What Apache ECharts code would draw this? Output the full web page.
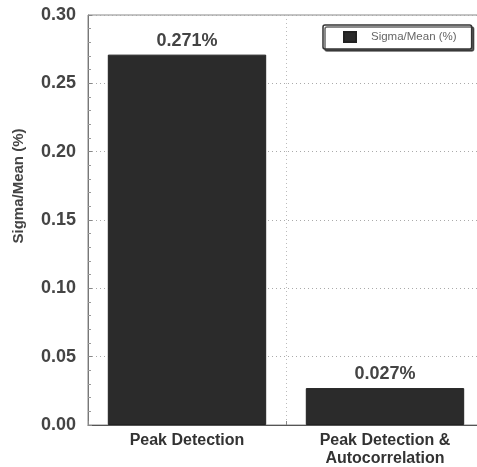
<!DOCTYPE html>
<html>
<head>
<meta charset="utf-8">
<script src="https://cdn.jsdelivr.net/npm/echarts@6/dist/echarts.min.js"></script>
<style>
html,body{margin:0;padding:0;background:#fff;}
#c{width:477px;height:467px;}
</style>
</head>
<body>
<div id="c"></div>
<script>
const categories = ['Peak Detection', 'Peak Detection &\nAutocorrelation'];
const seriesName = 'Sigma/Mean (%)';
const values = [0.271, 0.027];
const yAxisTitle = 'Sigma/Mean (%)';

const chart = echarts.init(document.getElementById('c'), null, {renderer: 'canvas'});
const font = '"Liberation Sans", Arial, Helvetica, sans-serif';
chart.setOption({
  animation: false,
  backgroundColor: '#fff',
  textStyle: {fontFamily: font},
  grid: {left: 88, top: 15, width: 396, height: 410, show: true, borderColor: '#888', borderWidth: 1,
    outerBoundsMode: 'none', containLabel: false},
  legend: {
    left: 323, top: 25,
    padding: [6, 15, 6, 20],
    itemWidth: 12, itemHeight: 10,
    icon: 'rect',
    borderColor: '#333', borderWidth: 1.5, borderRadius: 2,
    shadowColor: 'rgba(0,0,0,0.6)', shadowOffsetX: 2, shadowOffsetY: 2, shadowBlur: 0,
    backgroundColor: '#fff',
    textStyle: {fontFamily: font, fontSize: 11.5, color: '#666', padding: [0, 0, 0, 10], lineHeight: 12},
    data: [seriesName]
  },
  xAxis: {
    type: 'category',
    data: categories,
    axisLine: {show: true, lineStyle: {color: '#555', width: 1}},
    axisTick: {show: true, inside: true, length: 4, lineStyle: {color: '#888'}},
    axisLabel: {interval: 0, fontFamily: font, fontSize: 16, fontWeight: 'bold', color: '#333', lineHeight: 18, margin: 7},
    splitLine: {show: true, lineStyle: {color: '#bbb', type: [1, 3]}}
  },
  yAxis: {
    type: 'value',
    min: 0, max: 0.3, interval: 0.05,
    axisLine: {show: true, lineStyle: {color: '#777', width: 1}},
    axisTick: {show: true, inside: true, length: 4, lineStyle: {color: '#888'}},
    minorTick: {show: true, splitNumber: 5, length: 3, lineStyle: {color: '#999'}},
    axisLabel: {fontFamily: font, fontSize: 18, fontWeight: 'bold', color: '#444', margin: 12,
      formatter: v => v.toFixed(2)},
    splitLine: {show: true, lineStyle: {color: '#aaa', type: [1, 3]}}
  },
  graphic: [{
    type: 'text',
    x: 18.5, y: 186,
    rotation: Math.PI / 2,
    style: {text: yAxisTitle, font: 'bold 15px ' + font, fill: '#444', align: 'center', verticalAlign: 'middle'}
  }],
  series: [{
    name: seriesName,
    type: 'bar',
    data: values,
    barCategoryGap: '20%',
    itemStyle: {color: '#2b2b2b', borderColor: '#222', borderWidth: 1},
    label: {show: true, position: 'top', distance: 5, formatter: p => p.value + '%',
      fontFamily: font, fontSize: 18, fontWeight: 'bold', color: '#444'}
  }]
});
</script>
</body>
</html>
